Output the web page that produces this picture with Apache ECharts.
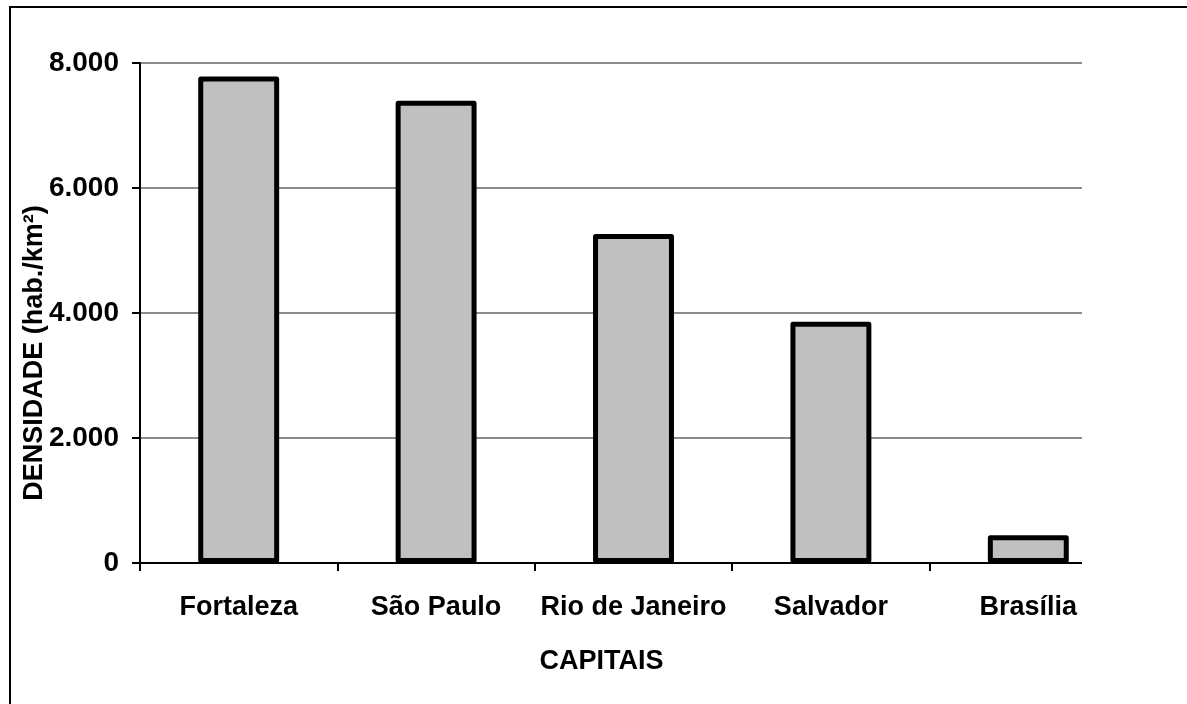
<!DOCTYPE html>
<html>
<head>
<meta charset="utf-8">
<script src="https://cdn.jsdelivr.net/npm/echarts@6/dist/echarts.min.js"></script>
<style>
html,body{margin:0;padding:0;background:#fff;}
#chart{width:1187px;height:704px;}
</style>
</head>
<body>
<div id="chart"></div>
<script>
const categories = ['Fortaleza', 'São Paulo', 'Rio de Janeiro', 'Salvador', 'Brasília'];
const densidade = [7786, 7398, 5266, 3859, 445];
const yTicks = [0, 2000, 4000, 6000, 8000];
const yAxisTitle = 'DENSIDADE (hab./km²)';
const xAxisTitle = 'CAPITAIS';

const FONT = '"Liberation Sans", Arial, sans-serif';
function fmt(v) {
  return String(v).replace(/\B(?=(\d{3})+(?!\d))/g, '.');
}

const chart = echarts.init(document.getElementById('chart'), null, {renderer: 'canvas'});
chart.setOption({
  backgroundColor: '#ffffff',
  animation: false,
  grid: {left: 140, right: 60, top: 63, bottom: 141, containLabel: false},
  xAxis: {
    type: 'category',
    data: categories,
    name: xAxisTitle,
    nameLocation: 'middle',
    nameGap: 85,
    nameMoveOverlap: false,
    nameTextStyle: {fontFamily: FONT, fontWeight: 'bold', fontSize: 27, color: '#000', padding: [0, 64, 0, 0]},
    axisLine: {lineStyle: {color: '#000', width: 2}},
    axisTick: {show: true, alignWithLabel: false, length: 8, lineStyle: {color: '#000', width: 2}},
    axisLabel: {fontFamily: FONT, fontWeight: 'bold', fontSize: 27, color: '#000', margin: 31, interval: 0},
    splitLine: {show: false}
  },
  yAxis: {
    type: 'value',
    min: yTicks[0],
    max: yTicks[yTicks.length - 1],
    interval: yTicks[1] - yTicks[0],
    name: yAxisTitle,
    nameLocation: 'middle',
    nameGap: 92,
    nameMoveOverlap: false,
    nameTextStyle: {fontFamily: FONT, fontWeight: 'bold', fontSize: 27, color: '#000', padding: [0, 80, 0, 0]},
    axisLine: {show: true, lineStyle: {color: '#000', width: 2}},
    axisTick: {show: true, length: 8, lineStyle: {color: '#000', width: 2}},
    axisLabel: {fontFamily: FONT, fontWeight: 'bold', fontSize: 28, color: '#000', margin: 21, formatter: fmt},
    splitLine: {show: true, lineStyle: {color: '#8c8c8c', width: 2}}
  },
  series: [{
    type: 'bar',
    data: densidade,
    barWidth: '41%',
    itemStyle: {color: '#c0c0c0', borderColor: '#000', borderWidth: 5, borderJoin: 'round'}
  }],
  graphic: [
    {type: 'rect', z: 100, shape: {x: 1082, y: 40, width: 105, height: 536}, style: {fill: '#ffffff'}, silent: true},
    {type: 'rect', z: 101, shape: {x: 10, y: 7, width: 1200, height: 720}, style: {fill: 'none', stroke: '#000', lineWidth: 2}, silent: true}
  ]
});
</script>
</body>
</html>
